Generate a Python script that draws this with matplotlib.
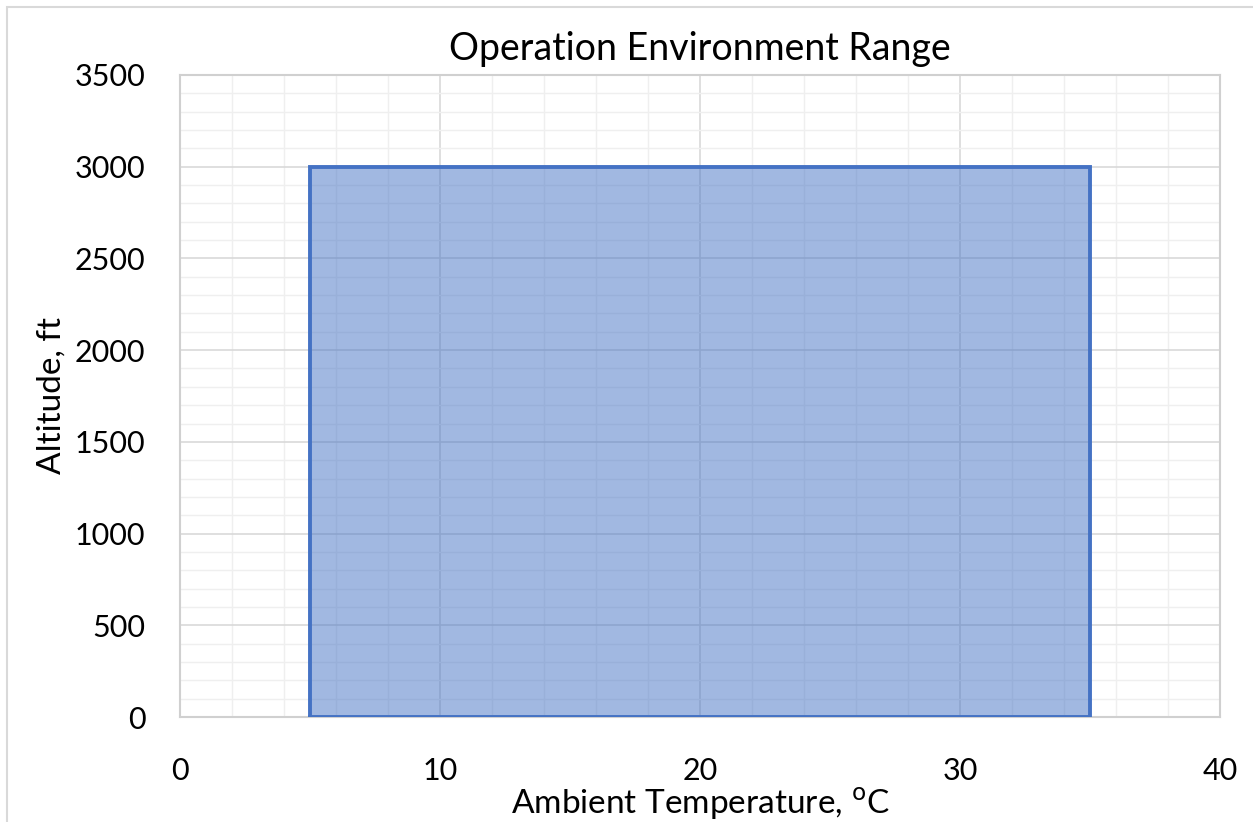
import matplotlib
matplotlib.use("Agg")
import matplotlib.pyplot as plt
from matplotlib.patches import Rectangle
from matplotlib.ticker import MultipleLocator

# Data
temp_range = [5, 35]        # Ambient temperature, °C
alt_range = [0, 3000]       # Altitude, ft
x_ticks = [0, 10, 20, 30, 40]
y_ticks = [0, 500, 1000, 1500, 2000, 2500, 3000, 3500]

plt.rcParams['font.family'] = ['Lato', 'DejaVu Sans']

W, H = 1253, 822
fig = plt.figure(figsize=(W / 100, H / 100), dpi=100)
ax = fig.add_axes([180 / W, 1 - 717 / H, (1220 - 180) / W, (717 - 75) / H])

# figure border (Excel chart area)
fig.patches.append(Rectangle((7 / W, -0.1), 1.2, 1 - 7 / H + 0.1, transform=fig.transFigure,
                             fill=False, edgecolor='#d9d9d9', linewidth=1.5))

xs = [temp_range[0], temp_range[0], temp_range[1], temp_range[1], temp_range[0]]
ys = [alt_range[0], alt_range[1], alt_range[1], alt_range[0], alt_range[0]]
ax.fill(xs, ys, facecolor='#4472C4', alpha=0.5, edgecolor='none', zorder=3)
ax.plot(xs, ys, color='#4472C4', linewidth=2.8, zorder=4, solid_joinstyle='miter')

ax.set_xlim(0, 40)
ax.set_ylim(0, 3500)
ax.set_xticks(x_ticks)
ax.set_yticks(y_ticks)
ax.xaxis.set_minor_locator(MultipleLocator(2))
ax.yaxis.set_minor_locator(MultipleLocator(100))
ax.grid(which='major', color='#d9d9d9', linewidth=1.2, zorder=1)
ax.grid(which='minor', color='#efefef', linewidth=1.0, zorder=0)
ax.set_axisbelow(True)
ax.tick_params(which='both', length=0)
ax.tick_params(axis='x', labelsize=22, pad=29)
ax.tick_params(axis='y', labelsize=22, pad=25)
for s in ax.spines.values():
    s.set_color('#d0d0d0')
    s.set_linewidth(1.5)

ax.set_title('Operation Environment Range', fontsize=27, pad=11)
ax.set_xlabel('Ambient Temperature, $^{\\mathrm{o}}$C', fontsize=24, labelpad=0)
ax.set_ylabel('Altitude, ft', fontsize=24, labelpad=6)

fig.savefig('out.png', dpi=100, facecolor='white')
